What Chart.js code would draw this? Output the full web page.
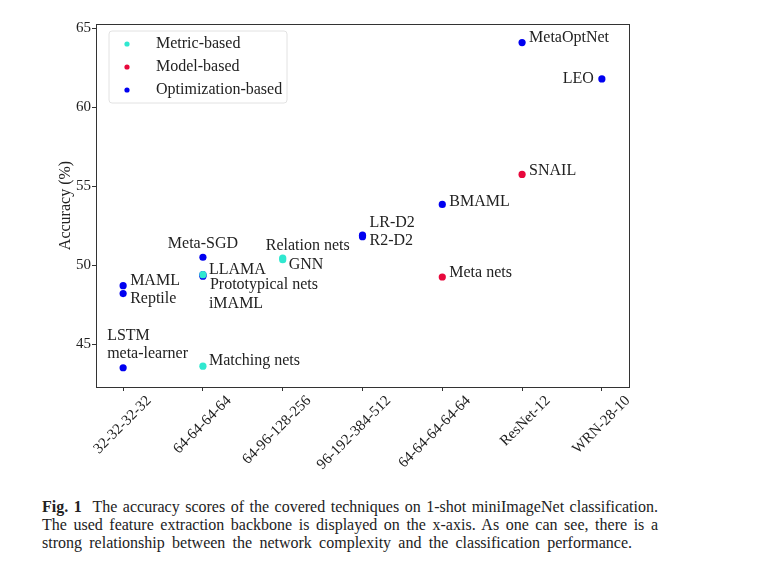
<!DOCTYPE html>
<html>
<head>
<meta charset="utf-8">
<script src="https://cdn.jsdelivr.net/npm/chart.js@4.4.0/dist/chart.umd.min.js"></script>
<style>
  body { margin: 0; background: #fff; }
  #wrap { position: relative; width: 758px; height: 579px; }
  #caption {
    position: absolute; left: 42px; top: 498px;
    font-family: "Liberation Serif", serif; font-size: 16px; line-height: 18px; color: #222;
  }
  #caption div { white-space: nowrap; text-align: justify; text-align-last: justify; width: 616px; }
  #caption div.last { width: 590px; }
</style>
</head>
<body>
<div id="wrap">
  <canvas id="chart" width="758" height="480"></canvas>
  <div id="caption">
    <div><b>Fig. 1</b>&nbsp; The accuracy scores of the covered techniques on 1-shot miniImageNet classification.</div>
    <div>The used feature extraction backbone is displayed on the x-axis. As one can see, there is a</div>
    <div class="last">strong relationship between the network complexity and the classification performance.</div>
  </div>
</div>
<script>
// backbones on the x-axis
const backbones = ['32-32-32-32', '64-64-64-64', '64-96-128-256', '96-192-384-512', '64-64-64-64-64', 'ResNet-12', 'WRN-28-10'];
const yTicks = [45, 50, 55, 60, 65];

// metric-based
const metricNames = ['Matching nets', 'Prototypical nets', 'Relation nets', 'GNN'];
const metricX = [1, 1, 2, 2];
const metricAcc = [43.6, 49.4, 50.45, 50.35];

// model-based
const modelNames = ['Meta nets', 'SNAIL'];
const modelX = [4, 5];
const modelAcc = [49.25, 55.75];

// optimization-based
const optNames = ['LSTM meta-learner', 'MAML', 'Reptile', 'Meta-SGD', 'LLAMA', 'iMAML', 'LR-D2', 'R2-D2', 'BMAML', 'MetaOptNet', 'LEO'];
const optX = [0, 0, 0, 1, 1, 1, 3, 3, 4, 5, 6];
const optAcc = [43.5, 48.7, 48.2, 50.5, 49.4, 49.3, 51.9, 51.8, 53.85, 64.1, 61.8];

const serif = '"Liberation Serif", serif';
const ink = '#222';

// where each text label sits relative to its point (px)
const labelPlace = {
  'Matching nets': [6, -5, 'left'],
  'Prototypical nets': [7, 10, 'left'],
  'Relation nets': [-17, -12, 'left'],
  'GNN': [6, 5, 'left'],
  'Meta nets': [7, -4, 'left'],
  'SNAIL': [7, -4, 'left'],
  'LSTM meta-learner': [-16, -32, 'left'],
  'MAML': [7, -5, 'left'],
  'Reptile': [7, 5, 'left'],
  'Meta-SGD': [0, -13, 'center'],
  'LLAMA': [6, -5, 'left'],
  'iMAML': [6, 28, 'left'],
  'LR-D2': [7, -12, 'left'],
  'R2-D2': [7, 4, 'left'],
  'BMAML': [7, -3, 'left'],
  'MetaOptNet': [7, -5, 'left'],
  'LEO': [-8, 0, 'right']
};

function pts(xs, ys) {
  return xs.map(function(x, i) { return {x: x, y: ys[i]}; });
}

const pointLabels = {
  id: 'pointLabels',
  afterDatasetsDraw: function(chart) {
    const ctx = chart.ctx;
    ctx.save();
    ctx.font = '16px ' + serif;
    ctx.fillStyle = ink;
    ctx.textBaseline = 'middle';
    chart.data.datasets.forEach(function(ds, di) {
      const meta = chart.getDatasetMeta(di);
      meta.data.forEach(function(el, i) {
        const name = ds.names[i];
        const p = labelPlace[name];
        ctx.textAlign = p[2];
        if (name === 'LSTM meta-learner') {
          ctx.fillText('LSTM', el.x + p[0], el.y + p[1]);
          ctx.fillText('meta-learner', el.x + p[0], el.y + p[1] + 18);
        } else {
          ctx.fillText(name, el.x + p[0], el.y + p[1]);
        }
      });
    });
    ctx.restore();
  }
};

const frameAndLegend = {
  id: 'frameAndLegend',
  afterDraw: function(chart) {
    const ctx = chart.ctx;
    const a = chart.chartArea;
    ctx.save();
    ctx.strokeStyle = '#333';
    ctx.lineWidth = 1;
    ctx.strokeRect(Math.round(a.left) + 0.5, Math.round(a.top) + 0.5, Math.round(a.right - a.left), Math.round(a.bottom - a.top));

    // legend box in the upper left corner
    const bx = a.left + 13, by = a.top + 7, bw = 178, bh = 72;
    ctx.beginPath();
    ctx.roundRect(bx, by, bw, bh, 3);
    ctx.fillStyle = 'rgba(255,255,255,0.8)';
    ctx.fill();
    ctx.strokeStyle = '#e2e2e2';
    ctx.stroke();
    ctx.font = '16px ' + serif;
    ctx.textBaseline = 'middle';
    ctx.textAlign = 'left';
    chart.data.datasets.forEach(function(ds, i) {
      const y = by + 13 + i * 23;
      ctx.beginPath();
      ctx.arc(bx + 18, y, 2.6, 0, Math.PI * 2);
      ctx.fillStyle = ds.backgroundColor;
      ctx.fill();
      ctx.fillStyle = ink;
      ctx.fillText(ds.label, bx + 47, y);
    });
    ctx.restore();
  }
};

new Chart(document.getElementById('chart'), {
  type: 'scatter',
  data: {
    datasets: [
      { label: 'Metric-based', names: metricNames, data: pts(metricX, metricAcc), backgroundColor: '#30e8d0' },
      { label: 'Model-based', names: modelNames, data: pts(modelX, modelAcc), backgroundColor: '#e8083c' },
      { label: 'Optimization-based', names: optNames, data: pts(optX, optAcc), backgroundColor: '#0000f0' }
    ]
  },
  options: {
    responsive: false,
    animation: false,
    layout: { padding: { left: 56, top: 24, right: 129, bottom: 0 } },
    elements: { point: { radius: 3.6, borderWidth: 0, hoverRadius: 3.6 } },
    plugins: { legend: { display: false }, tooltip: { enabled: false } },
    scales: {
      x: {
        type: 'linear',
        min: -0.34,
        max: 6.34,
        afterBuildTicks: function(scale) {
          scale.ticks = backbones.map(function(b, i) { return {value: i}; });
        },
        afterFit: function(scale) { scale.height = 93; },
        border: { display: false },
        grid: { drawOnChartArea: false, tickLength: 4, color: '#333' },
        ticks: {
          autoSkip: false,
          minRotation: 45,
          maxRotation: 45,
          labelOffset: 26,
          padding: 1,
          color: ink,
          font: { family: serif, size: 15 },
          callback: function(v) { return backbones[v]; }
        }
      },
      y: {
        min: 42.28,
        max: 65.28,
        afterBuildTicks: function(scale) {
          scale.ticks = yTicks.map(function(v) { return {value: v}; });
        },
        afterFit: function(scale) { scale.width = 40; },
        border: { display: false },
        grid: { drawOnChartArea: false, tickLength: 4, color: '#333' },
        title: { display: true, text: 'Accuracy (%)', color: ink, padding: 0, font: { family: serif, size: 16 } },
        ticks: { padding: 1, color: ink, font: { family: serif, size: 15 } }
      }
    }
  },
  plugins: [pointLabels, frameAndLegend]
});
</script>
</body>
</html>
